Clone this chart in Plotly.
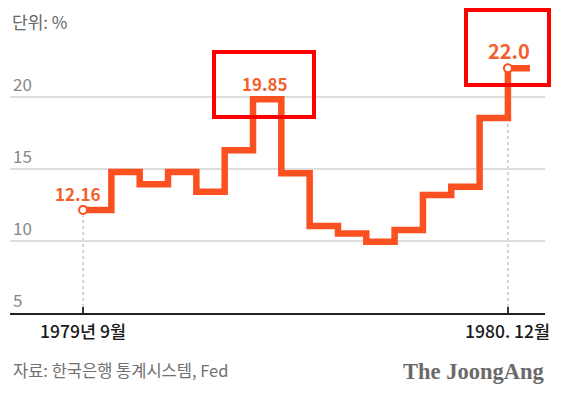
import plotly.graph_objects as go

# ---- data ----
months = ["1979-09", "1979-10", "1979-11", "1979-12", "1980-01", "1980-02",
          "1980-03", "1980-04", "1980-05", "1980-06", "1980-07", "1980-08",
          "1980-09", "1980-10", "1980-11", "1980-12"]
rates = [12.16, 14.8, 13.94, 14.8, 13.42, 16.3, 19.85, 14.7,
         11.04, 10.53, 9.95, 10.76, 13.2, 13.77, 18.54, 22.0]
y_ticks = [5, 10, 15, 20]
x_tick_labels = ["1979년 9월", "1980. 12월"]
peak_label = "19.85"
first_label = "12.16"
last_label = "22.0"

W, H = 562, 394
ML, MR, MT, MB = 10, 17, 20, 81
PW, PH = W - ML - MR, H - MT - MB

def px(x):
    return (x - ML) / PW

def py(y):
    return (H - MB - y) / PH

ORANGE = "#fb5020"
LABEL = "#f4602c"
FONT = "Noto Sans CJK KR"

idx = list(range(len(rates)))
tail = idx[-1] + 0.78  # last step drawn part-way through its month

fig = go.Figure()
fig.add_trace(go.Scatter(
    x=idx + [tail], y=rates + [rates[-1]], mode="lines",
    line=dict(color=ORANGE, width=6.5, shape="hv"), hoverinfo="skip"))
fig.add_trace(go.Scatter(
    x=[idx[0], idx[-1]], y=[rates[0], rates[-1]], mode="markers",
    marker=dict(size=8, color="white", line=dict(color=ORANGE, width=2)),
    hoverinfo="skip"))

shapes = []
for i in (0, len(rates) - 1):
    shapes.append(dict(type="line", xref="x", yref="y", x0=idx[i], x1=idx[i],
                       y0=y_ticks[0], y1=rates[i], layer="below",
                       line=dict(color="#aaaaaa", width=1, dash="dot")))
# red highlight boxes
for (x0, y0, x1, y1) in [(214, 52, 314, 117), (466, 10, 549, 85)]:
    shapes.append(dict(type="rect", xref="paper", yref="paper",
                       x0=px(x0), x1=px(x1), y0=py(y0), y1=py(y1),
                       line=dict(color="#ff0000", width=4)))

annotations = [
    dict(x=idx[0], y=rates[0], xref="x", yref="y", text=first_label, showarrow=False,
         xshift=-5, yshift=16, font=dict(family=FONT, size=17, color=LABEL, weight="bold")),
    dict(x=6.5, y=rates[6], xref="x", yref="y", text=peak_label, showarrow=False,
         xshift=-2, yshift=16, font=dict(family=FONT, size=17, color=LABEL, weight="bold")),
    dict(x=idx[-1], y=rates[-1], xref="x", yref="y", text=last_label, showarrow=False,
         xshift=1, yshift=18, font=dict(family=FONT, size=20, color=LABEL, weight="bold")),
    dict(x=idx[0], y=py(330), xref="x", yref="paper", text=x_tick_labels[0],
         showarrow=False, xanchor="center", yanchor="middle",
         font=dict(family=FONT, size=17.5, color="#1a1a1a", weight=500)),
    dict(x=idx[-1], y=py(330), xref="x", yref="paper", text=x_tick_labels[1],
         showarrow=False, xanchor="center", yanchor="middle",
         font=dict(family=FONT, size=17.5, color="#1a1a1a", weight=500)),
    dict(x=px(10), y=py(21), xref="paper", yref="paper", text="단위: %",
         showarrow=False, xanchor="left", yanchor="middle",
         font=dict(family=FONT, size=17, color="#666666")),
    dict(x=px(11), y=py(370), xref="paper", yref="paper",
         text="자료: 한국은행 통계시스템, Fed",
         showarrow=False, xanchor="left", yanchor="middle",
         font=dict(family=FONT, size=16.5, color="#707070")),
    dict(x=px(546), y=py(371), xref="paper", yref="paper", text="The JoongAng",
         showarrow=False, xanchor="right", yanchor="middle",
         font=dict(family="Liberation Serif", size=22.5, color="#6a6a6a", weight="bold")),
]

fig.update_layout(
    width=W, height=H, margin=dict(l=ML, r=MR, t=MT, b=MB),
    paper_bgcolor="white", plot_bgcolor="white", showlegend=False,
    shapes=shapes, annotations=annotations,
    xaxis=dict(range=[-2.58, 16.31], tickvals=[idx[0], idx[-1]], showticklabels=False,
               ticks="inside", ticklen=6, tickcolor="#333333", tickwidth=1.5,
               showgrid=False, zeroline=False, showline=True,
               linecolor="#222222", linewidth=1.5, fixedrange=True),
    yaxis=dict(range=[5, 25.35], tickvals=y_ticks, ticklabelposition="inside top",
               tickfont=dict(family=FONT, size=17, color="#888888"),
               showgrid=True, gridcolor="#dddddd", gridwidth=1.5,
               zeroline=False, showline=False, ticks="", fixedrange=True),
)

fig.write_html("out.html", config={"displayModeBar": False},
               post_script="document.body.style.margin='0';")
